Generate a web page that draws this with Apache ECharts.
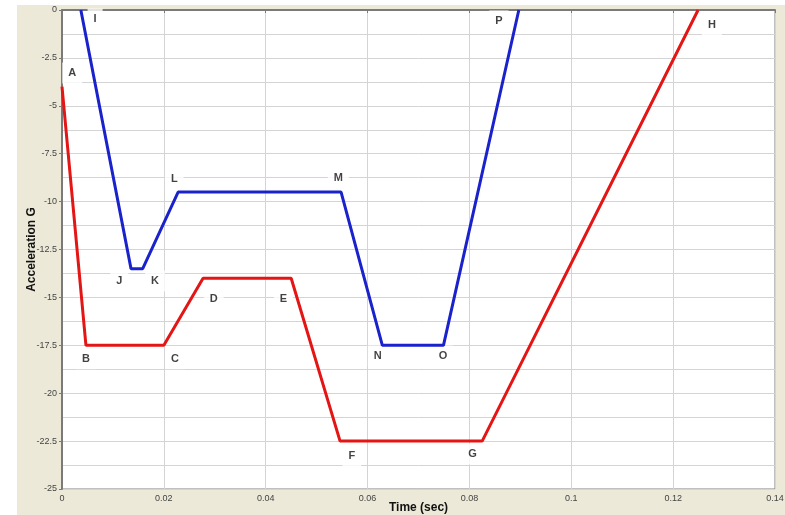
<!DOCTYPE html>
<html lang="en">
  <head>
    <meta charset="UTF-8" />
    <title>Acceleration</title>
    <style>
      html, body { margin: 0; padding: 0; background: #fff; }
      #bg { position: absolute; left: 17px; top: 5px; width: 768px; height: 510px; background: #ece9d8; }
      #chart { position: absolute; left: 0; top: 0; width: 785px; height: 515px; }
    </style>
  </head>
  <body>
    <div id="bg"></div>
    <div id="chart"></div>
    <script src="https://cdn.jsdelivr.net/npm/echarts@6/dist/echarts.min.js"></script>
    <script>
      // red curve A..H
      var redX = [0, 0.0047, 0.02, 0.0277, 0.045, 0.0546, 0.0825, 0.1249];
      var redY = [-4, -17.5, -17.5, -14, -14, -22.5, -22.5, 0];
      // blue curve I..P
      var blueX = [0.0037, 0.01355, 0.01585, 0.0228, 0.0548, 0.0629, 0.0749, 0.0897];
      var blueY = [0, -13.5, -13.5, -9.5, -9.5, -17.5, -17.5, 0];

      // point letters
      var labelNames = ['A', 'B', 'C', 'D', 'E', 'F', 'G', 'H', 'I', 'J', 'K', 'L', 'M', 'N', 'O', 'P'];
      var labelX = [0.002, 0.0047, 0.0222, 0.0298, 0.0435, 0.0569, 0.0806, 0.1276,
                    0.0065, 0.01125, 0.01826, 0.02205, 0.05426, 0.062, 0.0748, 0.0858];
      var labelY = [-3.29, -18.2, -18.2, -15.1, -15.1, -23.26, -23.17, -0.78,
                    -0.47, -14.14, -14.14, -8.82, -8.77, -18.06, -18.06, -0.57];

      function pairs(xs, ys) {
        return xs.map(function (x, i) { return [x, ys[i]]; });
      }

      var labelData = labelNames.map(function (n, i) {
        return { name: n, value: [labelX[i], labelY[i]] };
      });

      var chart = echarts.init(document.getElementById('chart'));

      var option = {
        backgroundColor: 'transparent',
        animation: false,
        grid: {
          left: 62,
          right: 10,
          top: 10,
          bottom: 26,
          outerBoundsMode: 'none',
          containLabel: false,
          show: true,
          backgroundColor: '#fff',
          borderColor: '#808080',
          borderWidth: 1
        },
        xAxis: {
          type: 'value',
          min: 0,
          max: 0.14,
          interval: 0.02,
          name: 'Time (sec)',
          nameLocation: 'middle',
          nameGap: 13,
          nameMoveOverlap: false,
          nameTextStyle: { fontFamily: 'Liberation Sans', fontWeight: 'bold', fontSize: 12, color: '#111' },
          axisLine: { show: true, lineStyle: { color: '#7a7a7a', width: 2 } },
          axisTick: { show: true, length: 3, lineStyle: { color: '#7a7a7a' } },
          axisLabel: { fontFamily: 'Liberation Sans', fontSize: 9, color: '#444', margin: 5 },
          splitLine: { lineStyle: { color: '#d4d4d4' } }
        },
        yAxis: {
          type: 'value',
          min: -25,
          max: 0,
          interval: 2.5,
          name: 'Acceleration G',
          nameLocation: 'middle',
          nameGap: 24,
          nameMoveOverlap: false,
          nameTextStyle: { fontFamily: 'Liberation Sans', fontWeight: 'bold', fontSize: 12, color: '#111' },
          axisLine: { show: true, lineStyle: { color: '#7a7a7a', width: 2 } },
          axisTick: { show: true, length: 3, lineStyle: { color: '#7a7a7a' } },
          axisLabel: { fontFamily: 'Liberation Sans', fontSize: 9, color: '#444', margin: 5 },
          splitLine: { lineStyle: { color: '#d4d4d4' } },
          minorTick: { show: false, splitNumber: 2 },
          minorSplitLine: { show: true, lineStyle: { color: '#d4d4d4' } }
        },
        series: [
          {
            type: 'scatter',
            data: labelData,
            symbolSize: 0,
            z: 3,
            label: {
              show: true,
              position: 'inside',
              formatter: '{b}',
              fontFamily: 'Liberation Sans',
              fontWeight: 'bold',
              fontSize: 11,
              color: '#111',
              backgroundColor: '#fff',
              padding: [4, 6, 6, 6]
            }
          },
          {
            type: 'line',
            data: pairs(redX, redY),
            symbol: 'none',
            z: 4,
            lineStyle: { color: '#e41515', width: 3 }
          },
          {
            type: 'line',
            data: pairs(blueX, blueY),
            symbol: 'none',
            z: 4,
            lineStyle: { color: '#1a22cc', width: 3 }
          }
        ]
      };

      chart.setOption(option);
    </script>
  </body>
</html>
